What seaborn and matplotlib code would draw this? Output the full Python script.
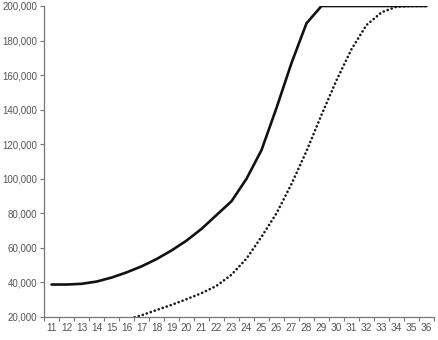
import matplotlib
matplotlib.use("Agg")
import matplotlib.pyplot as plt
import seaborn as sns
import numpy as np
import pandas as pd
from matplotlib.ticker import FuncFormatter, FixedLocator

categories = [str(i) for i in range(11, 37)]
solid_values = [38800, 38800, 39200, 40500, 42800, 45800, 49300, 53500, 58500, 64200,
                71000, 79000, 87000, 100000, 116600, 141000, 167000, 190000, 200000, 200000,
                200000, 200000, 200000, 200000, 200000, 200000]
dotted_values = [np.nan, np.nan, np.nan, np.nan, np.nan, 18500, 21000, 24000, 27000, 30300,
                 33800, 38000, 44500, 53800, 66400, 80000, 97000, 116000, 137000, 157000,
                 175000, 189000, 196300, 199600, 200000, 200000]
y_ticks = list(range(20000, 200001, 20000))

sns.set_theme(style="white")
plt.rcParams['font.family'] = ['Liberation Sans', 'DejaVu Sans']

df = pd.DataFrame({"cat": categories, "solid": solid_values, "dotted": dotted_values})
df["pos"] = np.arange(len(categories))

fig = plt.figure(figsize=(4.39, 3.40), dpi=100)
ax = fig.add_axes([44/439, 23/340, 390/439, 311/340])

sns.lineplot(data=df, x="pos", y="dotted", ax=ax, color="#1a1a1a", linewidth=1.9,
             linestyle=(0, (0.05, 1.55)))
sns.lineplot(data=df, x="pos", y="solid", ax=ax, color="#111111", linewidth=1.9)
ax.lines[0].set_dash_capstyle("round")

ax.set_xlim(-0.5, len(categories) - 0.5)
ax.set_ylim(20000, 200000)
ax.set_xlabel("")
ax.set_ylabel("")

ax.set_xticks(np.arange(len(categories)))
ax.set_xticklabels(categories)
ax.xaxis.set_minor_locator(FixedLocator(np.arange(-0.5, len(categories), 1)))
ax.tick_params(axis="x", which="major", length=0, pad=4, labelsize=7.3, labelcolor="#555555")
ax.tick_params(axis="x", which="minor", length=3, width=0.8, color="#777777", direction="out", bottom=True)

ax.set_yticks(y_ticks)
ax.yaxis.set_major_formatter(FuncFormatter(lambda v, p: f"{int(v):,}"))
ax.tick_params(axis="y", which="major", length=3, width=0.8, color="#777777", direction="out",
               left=True, labelsize=7, labelcolor="#555555", pad=2)

for s in ["top", "right"]:
    ax.spines[s].set_visible(False)
for s in ["left", "bottom"]:
    ax.spines[s].set_color("#777777")
    ax.spines[s].set_linewidth(0.9)

fig.savefig("out.png", dpi=100)
